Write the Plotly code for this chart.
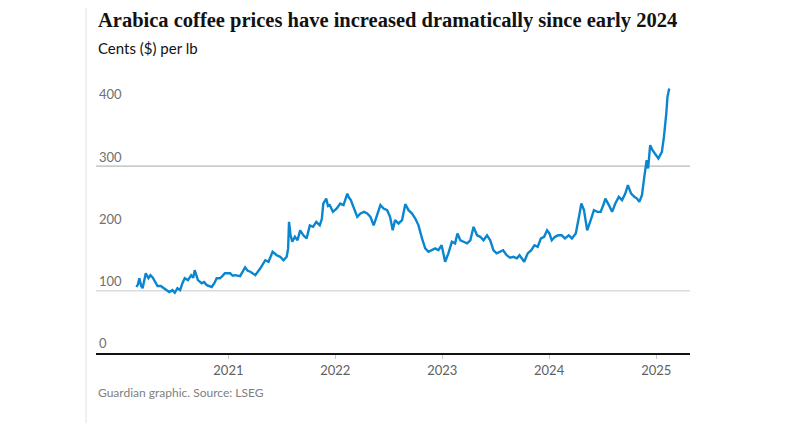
import plotly.graph_objects as go

dates = [
    "2020-02-22", "2020-02-27", "2020-03-03", "2020-03-09", "2020-03-14", "2020-03-20", "2020-03-25",
    "2020-04-03", "2020-04-10", "2020-04-18", "2020-04-25",
    "2020-05-04", "2020-05-15", "2020-05-27", "2020-06-05", "2020-06-13", "2020-06-24", "2020-07-02",
    "2020-07-11", "2020-07-20", "2020-07-28", "2020-08-05", "2020-08-16", "2020-08-27", "2020-09-03", "2020-09-08",
    "2020-09-19", "2020-10-02", "2020-10-10", "2020-10-19", "2020-11-05", "2020-11-14", "2020-11-22", "2020-12-03",
    "2020-12-12", "2020-12-20",
    "2021-01-07", "2021-01-16", "2021-01-24", "2021-02-10", "2021-02-27", "2021-03-08", "2021-03-17", "2021-04-03",
    "2021-04-20", "2021-05-07", "2021-05-18", "2021-06-01", "2021-06-15", "2021-06-27",
    "2021-07-08", "2021-07-19", "2021-07-24", "2021-07-27", "2021-08-01", "2021-08-07", "2021-08-16", "2021-08-25",
    "2021-09-03", "2021-09-14", "2021-09-25", "2021-10-06", "2021-10-17", "2021-10-28",
    "2021-11-09", "2021-11-16", "2021-11-21", "2021-12-01", "2021-12-07", "2021-12-13", "2021-12-24",
    "2022-01-06", "2022-01-18", "2022-01-29", "2022-02-11", "2022-02-16", "2022-02-23", "2022-03-05",
    "2022-03-17", "2022-03-28", "2022-04-09", "2022-04-20", "2022-05-01", "2022-05-12",
    "2022-05-24", "2022-06-04", "2022-06-15", "2022-06-27", "2022-07-07", "2022-07-16",
    "2022-07-24", "2022-08-05", "2022-08-17", "2022-08-28", "2022-09-08", "2022-09-20",
    "2022-10-01", "2022-10-12", "2022-10-24", "2022-11-04", "2022-11-15", "2022-11-27",
    "2022-12-08", "2022-12-19", "2022-12-30",
    "2023-01-11", "2023-01-22", "2023-02-03", "2023-02-14", "2023-02-22", "2023-03-04",
    "2023-03-15", "2023-03-27", "2023-04-07", "2023-04-18", "2023-04-30", "2023-05-11",
    "2023-05-22", "2023-06-03", "2023-06-14", "2023-06-25", "2023-07-06", "2023-07-17",
    "2023-07-28", "2023-08-09", "2023-08-21", "2023-09-01", "2023-09-13", "2023-09-22",
    "2023-10-08", "2023-10-20", "2023-11-01", "2023-11-12", "2023-11-23", "2023-12-04",
    "2023-12-15", "2023-12-25",
    "2024-01-02", "2024-01-10", "2024-01-21", "2024-02-01", "2024-02-13", "2024-02-24",
    "2024-03-08", "2024-03-19", "2024-04-01", "2024-04-12", "2024-04-20", "2024-04-29",
    "2024-05-10", "2024-05-22", "2024-06-02", "2024-06-14", "2024-06-25", "2024-07-06",
    "2024-07-11", "2024-07-23", "2024-08-03", "2024-08-14", "2024-08-26", "2024-09-06",
    "2024-09-17", "2024-09-26", "2024-10-07", "2024-10-18", "2024-10-27", "2024-11-04",
    "2024-11-13", "2024-11-21", "2024-11-29", "2024-12-04", "2024-12-11", "2024-12-19",
    "2024-12-30",
    "2025-01-08", "2025-01-20", "2025-01-27", "2025-02-04", "2025-02-08", "2025-02-14",
]

prices = [
    106, 110, 120, 108, 104, 116, 128,
    120, 125, 121, 116,
    107.5, 107.5, 104, 101, 98, 101, 96.7,
    104, 101, 112, 120, 117, 125, 121, 133,
    117, 112, 114, 109, 106, 112, 120, 120,
    124, 128,
    128, 124, 125, 123.5, 137.5, 132, 130.5, 125,
    136, 149, 146.5, 162.5, 157, 154.5,
    149, 154.5, 168, 210.7, 190, 178.6, 186.6, 181,
    197, 189, 184, 205, 202.6, 210.7,
    205, 215, 240, 248, 236, 237.5, 226.7,
    232, 240, 237.5, 256, 250, 245.5, 234.7,
    218.7, 224, 226.7, 224, 218.7, 205,
    224, 237.5, 232, 229.4, 218.7, 197,
    213.4, 208, 213.4, 239, 229.4, 224,
    216, 205, 184, 168, 162.5, 165,
    168, 165, 173,
    146.5, 160, 178.6, 176, 192, 181,
    178.6, 176, 181, 202.6, 189, 186.6,
    181, 189, 181, 165, 160, 162.5,
    165, 157, 153, 154.5, 152, 157,
    146.5, 160, 165, 173, 170.5, 184,
    186.6, 197,
    192, 181, 186.6, 189, 189, 184,
    189, 184, 192, 218.7, 240, 229.4,
    197, 213.4, 229.4, 226.7, 226.7, 240,
    248, 237.5, 226.7, 240, 250.8, 245.5,
    256, 269.5, 256, 250.8, 248, 242.7,
    253.5, 282.8, 309.6, 296.3, 333.7, 325.7,
    317.7,
    312.4, 323, 347, 384.6, 411, 424.7,
]

year_ticks = ["2021-01-01", "2022-01-01", "2023-01-01", "2024-01-01", "2025-01-01"]
year_labels = ["2021", "2022", "2023", "2024", "2025"]
y_ticks = [0, 100, 200, 300, 400]

title_text = "Arabica coffee prices have increased dramatically since early 2024"
subtitle_text = "Cents ($) per lb"
source_text = "Guardian graphic. Source: LSEG"

fig = go.Figure()
fig.add_trace(go.Scatter(
    x=dates, y=prices, mode="lines",
    line=dict(color="#0a86cf", width=2.4),
    hoverinfo="x+y", showlegend=False, cliponaxis=False,
))

fig.update_layout(
    width=800, height=423,
    margin=dict(l=88, r=118, t=70.7, b=78),
    paper_bgcolor="white", plot_bgcolor="white",
    font=dict(family="Lato, sans-serif", size=13, color="#707070"),
    xaxis=dict(
        type="date", range=["2019-10-07", "2025-04-26"],
        tickvals=year_ticks, ticktext=year_labels,
        showgrid=False, zeroline=False,
        showline=True, linecolor="#121212", linewidth=2,
        ticks="outside", ticklen=4, tickcolor="#c8c8c8", tickwidth=1,
        tickfont=dict(size=13, color="#606060"),
    ),
    yaxis=dict(
        range=[0, 440], tickvals=y_ticks,
        showgrid=False, zeroline=False, showline=False,
        ticks="", ticklabelposition="inside top",
        tickfont=dict(size=13, color="#707070"),
    ),
    shapes=[
        dict(type="line", xref="paper", yref="y", x0=0, x1=1, y0=100, y1=100,
             line=dict(color="#dcdcdc", width=1.5), layer="below"),
        dict(type="line", xref="paper", yref="y", x0=0, x1=1, y0=300, y1=300,
             line=dict(color="#b8b8b8", width=1.2), layer="below"),
        dict(type="line", xref="paper", yref="paper", x0=-0.0168, x1=-0.0168, y0=-0.3, y1=1.29,
             line=dict(color="#ececec", width=1.5), layer="below"),
        dict(type="line", xref="paper", yref="paper", x0=-0.0168, x1=1.2, y0=1.283, y1=1.283,
             line=dict(color="#ececec", width=1.5), layer="below"),
    ],
    annotations=[
        dict(text="<b>" + title_text + "</b>", xref="paper", yref="paper", x=0, y=1.214,
             xanchor="left", yanchor="middle", showarrow=False,
             font=dict(family="Liberation Serif, serif", size=20.5, color="#121212")),
        dict(text=subtitle_text, xref="paper", yref="paper", x=0, y=1.112,
             xanchor="left", yanchor="middle", showarrow=False,
             font=dict(family="Lato, sans-serif", size=15, color="#121212")),
        dict(text=source_text, xref="paper", yref="paper", x=0, y=-0.1458,
             xanchor="left", yanchor="middle", showarrow=False,
             font=dict(family="Lato, sans-serif", size=12, color="#808080")),
    ],
)

fig.write_html("out.html")
